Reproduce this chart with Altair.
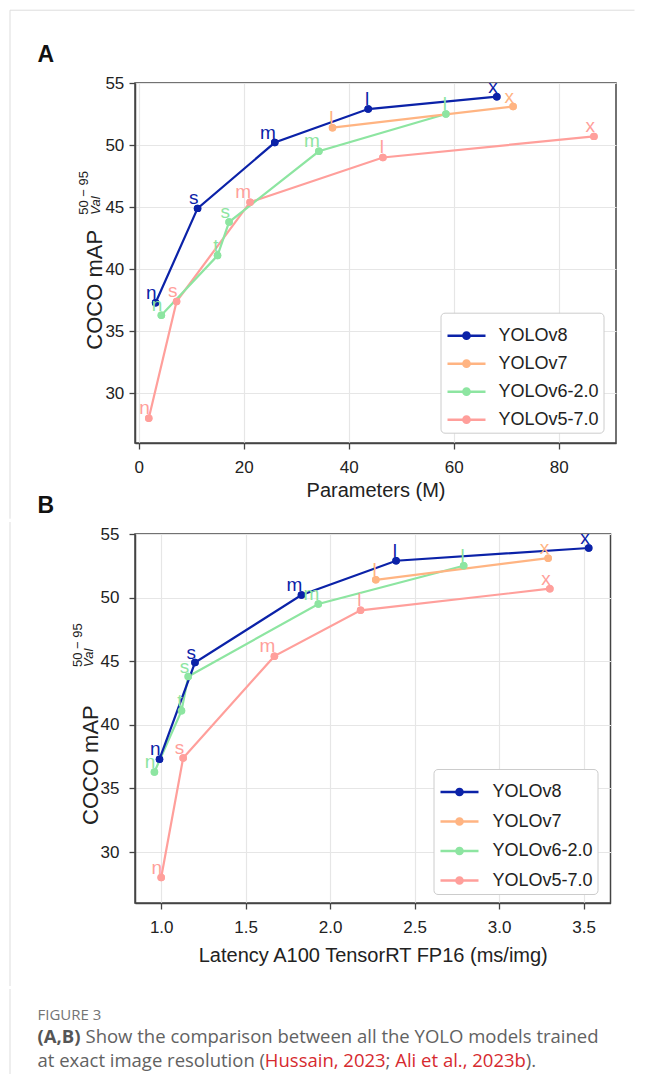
import altair as alt
import pandas as pd

FONT = "Liberation Sans"
CAP_FONT = "Open Sans"

series = ["YOLOv8", "YOLOv7", "YOLOv6-2.0", "YOLOv5-7.0"]
colors = ["#0b22a8", "#ffb482", "#8de5a1", "#ff9f9b"]

v8_labels = ["n", "s", "m", "l", "x"]
v8_params = [3.2, 11.2, 25.9, 43.7, 68.2]
v8_latency = [0.99, 1.20, 1.83, 2.39, 3.53]
v8_map = [37.3, 44.9, 50.2, 52.9, 53.9]

v7_labels = ["l", "x"]
v7_params = [36.9, 71.3]
v7_latency = [2.27, 3.29]
v7_map = [51.4, 53.1]

v6_labels = ["n", "t", "s", "m", "l"]
v6_params = [4.3, 15.0, 17.2, 34.3, 58.5]
v6_latency = [0.96, 1.12, 1.16, 1.93, 2.79]
v6_map = [36.3, 41.1, 43.8, 49.5, 52.5]

v5_labels = ["n", "s", "m", "l", "x"]
v5_params = [1.9, 7.2, 21.2, 46.5, 86.7]
v5_latency = [1.00, 1.13, 1.67, 2.18, 3.30]
v5_map = [28.0, 37.4, 45.4, 49.0, 50.7]

params_ticks = [0, 20, 40, 60, 80]
latency_ticks = [1.0, 1.5, 2.0, 2.5, 3.0, 3.5]
map_ticks = [30, 35, 40, 45, 50, 55]

rows = []
for name, labs, par, lat, mp in [
    ("YOLOv5-7.0", v5_labels, v5_params, v5_latency, v5_map),
    ("YOLOv6-2.0", v6_labels, v6_params, v6_latency, v6_map),
    ("YOLOv7", v7_labels, v7_params, v7_latency, v7_map),
    ("YOLOv8", v8_labels, v8_params, v8_latency, v8_map),
]:
    for i in range(len(labs)):
        rows.append({"series": name, "label": labs[i], "params": par[i],
                     "latency": lat[i], "map": mp[i]})
df = pd.DataFrame(rows)

color_scale = alt.Scale(domain=series, range=colors)
# size / stroke-width scales use a different domain order so that
# Vega-Lite does not fold them into the colour legend
alt_order = ["YOLOv5-7.0", "YOLOv6-2.0", "YOLOv7", "YOLOv8"]
SYMBOL = ("M-1,-0.065L1,-0.065L1,0.065L-1,0.065Z "
          "M-0.23,0A0.23,0.23,0,1,1,0.23,0A0.23,0.23,0,1,1,-0.23,0Z")

one = alt.Data(values=[{"a": 1}])


def text_mark(x, y, txt, size, color="#222", angle=0, weight="normal",
              style="normal", font=FONT, align="left"):
    return alt.Chart(one).mark_text(
        align=align, baseline="alphabetic", angle=angle, fontSize=size,
        fontWeight=weight, fontStyle=style, font=font, color=color
    ).encode(x=alt.value(x), y=alt.value(y), text=alt.value(txt))


def rule_mark(x, x2, y, y2, color="#dddddd"):
    return alt.Chart(one).mark_rule(color=color, strokeWidth=1).encode(
        x=alt.value(x), x2=alt.value(x2), y=alt.value(y), y2=alt.value(y2))


def panel(xfield, xdomain, xticks, xfmt, xtitle, w, h, title_pad, ylab_pad,
          leg_x, leg_y, row_pad, lab_off, extras):
    xenc = alt.X(f"{xfield}:Q",
                 scale=alt.Scale(domain=xdomain, nice=False, zero=False),
                 axis=alt.Axis(values=xticks, format=xfmt, title=xtitle,
                               titlePadding=title_pad, titleFontSize=20,
                               titleFontWeight="normal", titleColor="#222",
                               labelFontSize=17, labelColor="#222",
                               labelPadding=10, tickSize=6, tickColor="#444",
                               tickWidth=1.3, domainColor="#444",
                               domainWidth=1.5, gridColor="#e6e6e6",
                               gridWidth=1.2, labelFlush=False))
    yenc = alt.Y("map:Q",
                 scale=alt.Scale(domain=[26, 55], nice=False, zero=False),
                 axis=alt.Axis(values=map_ticks, title=None,
                               labelFontSize=17, labelColor="#222",
                               labelPadding=ylab_pad, tickSize=6,
                               tickColor="#444", tickWidth=1.3,
                               domainColor="#444", domainWidth=1.5,
                               gridColor="#e6e6e6", gridWidth=1.2,
                               labelFlush=False))
    base = alt.Chart(df)
    size_enc = alt.Size("series:N", scale=alt.Scale(
        domain=alt_order, range=[56, 56, 56, 85]), legend=None)
    pts_legend = base.mark_circle(opacity=1, size=56).encode(
        x=xenc, y=yenc,
        color=alt.Color("series:N", scale=color_scale, legend=alt.Legend(
            title=None, orient="none", legendX=leg_x, legendY=leg_y,
            symbolType=SYMBOL, symbolSize=1444, symbolStrokeWidth=0,
            symbolOpacity=1, labelFontSize=18, labelFont=FONT,
            labelColor="#222", labelOffset=lab_off, padding=4,
            rowPadding=row_pad, strokeColor="#cccccc", fillColor="#ffffff",
            cornerRadius=4, symbolOffset=3)),
    )
    lines = base.mark_line().encode(
        x=xenc, y=yenc,
        color=alt.Color("series:N", scale=color_scale),
        strokeWidth=alt.StrokeWidth("series:N", scale=alt.Scale(
            domain=alt_order, range=[2.2, 2.2, 2.2, 3.2]), legend=None),
    )
    pts = base.mark_circle(opacity=1).encode(
        x=xenc, y=yenc,
        color=alt.Color("series:N", scale=color_scale),
        size=size_enc,
    )
    labels = base.mark_text(align="right", baseline="bottom", dx=1,
                            fontSize=19, font=FONT).encode(
        x=xenc, y=yenc, text="label:N",
        color=alt.Color("series:N", scale=color_scale),
    )
    return alt.layer(pts_legend, lines, pts, labels, *extras).properties(
        width=w, height=h,
        view=alt.ViewBackground(stroke="#444", strokeWidth=1.5))


ytitle = "COCO mAP"
sup = "50 \u2212 95"
sub = "Val"

extras_a = [
    rule_mark(-125, -125, -72.8, 435.7),
    rule_mark(-125, 499.5, -72.8, -72.8),
    text_mark(-97.5, -21.3, "A", 23, weight="bold", color="#111"),
    text_mark(-97.5, 429.7, "B", 23, weight="bold", color="#111"),
    text_mark(-33, 266.7, ytitle, 22, angle=270),
    text_mark(-47, 131.7, sup, 13, angle=270),
    text_mark(-35.5, 131.7, sub, 13, angle=270, style="italic"),
]
panel_a = panel("params", [-0.72, 90.9], params_ticks, "d", "Parameters (M)",
                481, 360, 5, 5.2, 305.5, 229.7, -0.5, 13, extras_a)

extras_b = [
    rule_mark(-125, -125, -12, 452),
    text_mark(-37.5, 291, ytitle, 22, angle=270),
    text_mark(-53, 133, sup, 13, angle=270),
    text_mark(-42.5, 133, sub, 13, angle=270, style="italic"),
]
panel_b = panel("latency", [0.845, 3.659], latency_ticks, ".1f",
                "Latency A100 TensorRT FP16 (ms/img)",
                475.5, 369, 10, 10, 298.5, 235, 1.5, 14, extras_b)

GRAY = "#626262"
RED = "#d62a2f"
CS = 18.5
X0 = -97.5
cap_segments = [
    ("at exact image resolution (", GRAY, 0.0),
    ("Hussain, 2023", RED, 227.35),
    (";", GRAY, 348.02),
    ("Ali et al., 2023b", RED, 357.75),
    (").", GRAY, 488.21),
]

cap_layers = [
    rule_mark(-125, -125, 0, 85),
    text_mark(X0, 30.5, "FIGURE 3", 15, color="#747474", font=CAP_FONT),
    text_mark(X0, 53.5, "(A,B)", CS, color="#555555", weight="bold",
              font=CAP_FONT),
    text_mark(X0 + 48, 53.5,
              "Show the comparison between all the YOLO models trained",
              CS, color=GRAY, font=CAP_FONT),
]
for txt, col, off in cap_segments:
    cap_layers.append(text_mark(X0 + off, 77.5, txt, CS, color=col,
                                font=CAP_FONT))

caption = alt.layer(*cap_layers).properties(width=470, height=85)

chart = alt.vconcat(panel_a, panel_b, caption, spacing=0).resolve_scale(
    color="independent", size="independent", strokeWidth="independent"
).resolve_legend(color="independent").properties(
    padding={"left": 0, "top": 0, "right": 2, "bottom": 2}
).configure(font=FONT).configure_view(stroke="transparent")

chart.save("out.html", embed_options={"renderer": "svg", "actions": False})
